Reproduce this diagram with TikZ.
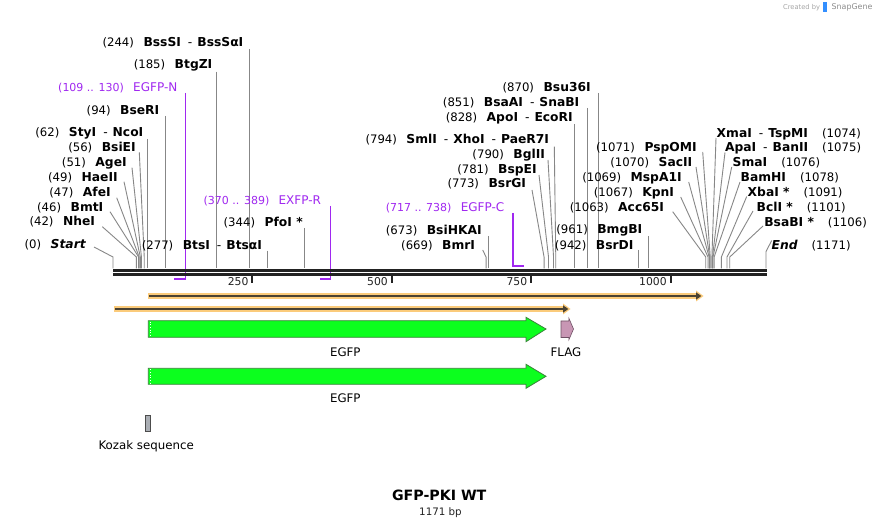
\documentclass[tikz,border=0pt]{standalone}
\usepackage{fontspec}
\setmainfont{DejaVu Sans}
\definecolor{primer}{RGB}{160,40,240}
\definecolor{siteg}{RGB}{135,135,135}
\definecolor{orband}{RGB}{251,203,123}
\definecolor{ordark}{RGB}{74,66,50}
\definecolor{gfill}{RGB}{12,255,30}
\definecolor{gline}{RGB}{60,130,60}
\definecolor{flagfill}{RGB}{200,150,180}
\definecolor{flagline}{RGB}{110,80,100}
\definecolor{kozfill}{RGB}{170,174,180}
\definecolor{seqc}{RGB}{34,34,34}
\newcommand\numf{\fontsize{11.7}{13}\selectfont\mdseries}
\newcommand\namef{\fontsize{12.3}{14}\selectfont\bfseries}
\newcommand\dsh{\hspace{7pt}{\mdseries -}\hspace{5pt}}
\tikzset{
  lab/.style={inner sep=0pt, outer sep=0pt, text=black},
  plab/.style={inner sep=0pt, outer sep=0pt, text=primer},
  cutline/.style={draw=siteg, line width=0.9pt},
  primline/.style={draw=primer, line width=1.4pt},
  primfoot/.style={draw=primer, line width=2.2pt},
  seqline/.style={draw=seqc, line width=3pt},
  tickline/.style={draw=seqc, line width=2pt},
  featlab/.style={inner sep=0pt, outer sep=0pt, font=\fontsize{11.8}{14}\selectfont},
}
\newcommand\labL[5]{%
  \node[lab, anchor=base east] (#1) at (#2,#3+4.5) {\namef #5};
  \node[lab, anchor=base east] (#1-n) at ([xshift=-9.5pt]#1.base west) {\numf #4};}
\newcommand\labR[5]{%
  \node[lab, anchor=base west] (#1) at (#2,#3+4.5) {\namef #5};
  \node[lab, anchor=base west] (#1-n) at ([xshift=14pt]#1.base east) {\numf #4};}
\newcommand\cutS[4]{%
  \coordinate (#1-a) at (#3,#4);
  \coordinate (#1-b) at ({113+#2*0.55764},257);
  \coordinate (#1-s) at ({113+#2*0.55764},268.5);
  \draw[cutline] (#1-a) -- (#1-b) -- (#1-s);}
\newcommand\cutV[3]{%
  \coordinate (#1-a) at ({113+#2*0.55764},#3);
  \coordinate (#1-s) at ({113+#2*0.55764},268.5);
  \draw[cutline] (#1-a) -- (#1-s);}
\begin{document}
\begin{tikzpicture}[x=1pt,y=-1pt]
\useasboundingbox (0,0) rectangle (880,526);
\fill[white] (0,0) rectangle (880,526);

% ---------- cut-site lines ----------
\cutS{Start}{0}{94}{247}
\cutS{NheI}{42}{102.3}{226.7}
\cutS{BmtI}{46}{110}{211.7}
\cutS{AfeI}{47}{116.7}{197.7}
\cutS{HaeII}{49}{124}{181.7}
\cutS{AgeI}{51}{132}{167.7}
\cutS{BsiEI}{56}{139.3}{152.3}
\cutV{StyI}{62}{139}
\cutV{BseRI}{94}{116}
\cutV{BtgZI}{185}{71.7}
\cutV{BssSI}{244}{49}
\cutV{BtsI}{277}{250.7}
\cutV{PfoI}{344}{228}
\cutS{BmrI}{669}{482.7}{250}
\cutV{BsiHKAI}{673}{236}
\cutS{BsrGI}{773}{532}{190}
\cutS{BspEI}{781}{539}{175}
\cutS{BglII}{790}{548}{160}
\cutS{SmlI}{794}{554.3}{146.7}
\cutV{ApoI}{828}{124}
\cutV{BsaAI}{851}{108}
\cutV{Bsu}{870}{93}
\cutV{BsrDI}{942}{250}
\cutV{BmgBI}{961}{236}
\cutS{Acc}{1063}{672.7}{211.7}
\cutS{KpnI}{1067}{680.7}{197}
\cutS{MspA}{1069}{688.7}{182}
\cutS{SacII}{1070}{696}{167}
\cutS{PspOMI}{1071}{702.7}{152}
\cutS{XmaI}{1074}{716}{138}
\cutS{ApaI}{1075}{725}{152.5}
\cutS{SmaI}{1076}{731.7}{167}
\cutS{BamHI}{1078}{740}{182}
\cutS{XbaI}{1091}{746.7}{196.5}
\cutS{BclI}{1101}{753}{211}
\cutS{BsaBI}{1106}{763}{226}
\coordinate (End-a) at (771.7,240.5);
\coordinate (End-b) at (766,251.5);
\coordinate (End-s) at (766,268.5);
\draw[cutline] (End-a) -- (End-b) -- (End-s);

% ---------- primers ----------
\coordinate (pN-a) at (185.5,93);
\coordinate (pN-b) at (185.5,279);
\coordinate (pN-c) at (173.8,279);
\draw[primline] (pN-a) -- (pN-b);
\draw[primfoot] ([xshift=0.7pt]pN-b) -- (pN-c);
\coordinate (pR-a) at (330.3,206);
\coordinate (pR-b) at (330.3,279);
\coordinate (pR-c) at (319.5,279);
\draw[primline] (pR-a) -- (pR-b);
\draw[primfoot] ([xshift=0.7pt]pR-b) -- (pR-c);
\coordinate (pC-a) at (513,213);
\coordinate (pC-b) at (513,266);
\coordinate (pC-c) at (524,266);
\draw[primline] (pC-a) -- (pC-b);
\draw[primfoot] ([xshift=-0.7pt]pC-b) -- (pC-c);

% ---------- sequence ----------
\coordinate (seqL1) at (113,270.3);
\coordinate (seqR1) at (767,270.3);
\coordinate (seqL2) at (113,274.3);
\coordinate (seqR2) at (767,274.3);
\draw[seqline] (seqL1) -- (seqR1);
\draw[seqline] (seqL2) -- (seqR2);
\foreach \t/\lab in {250/t250,500/t500,750/t750,1000/t1000}{
  \coordinate (\lab-a) at ({113+\t*0.55764},275);
  \coordinate (\lab-b) at ({113+\t*0.55764},283);
  \draw[tickline] (\lab-a) -- (\lab-b);
  \node[lab, anchor=base east, text=seqc] (\lab) at ({113+\t*0.55764-4},286) {\fontsize{10.8}{13}\selectfont \t};
}

% ---------- enzyme labels ----------
\labL{Start}{85.7}{244.3}{(0)}{\itshape Start}
\labL{NheI}{95}{221}{(42)}{NheI}
\labL{BmtI}{103.3}{206.7}{(46)}{BmtI}
\labL{AfeI}{110.7}{191.7}{(47)}{AfeI}
\labL{HaeII}{117.7}{176.7}{(49)}{HaeII}
\labL{AgeI}{126.7}{161.7}{(51)}{AgeI}
\labL{BsiEI}{135.7}{146.7}{(56)}{BsiEI}
\labL{StyI}{143.3}{132.3}{(62)}{StyI\dsh NcoI}
\labL{BseRI}{159.3}{110}{(94)}{BseRI}
\labL{BtgZI}{212.3}{64.3}{(185)}{BtgZI}
\labL{BssSI}{243.3}{42.3}{(244)}{BssSI\dsh BssSαI}
\labL{BtsI}{262}{245}{(277)}{BtsI\dsh BtsαI}
\labL{PfoI}{302.7}{222.3}{(344)}{PfoI *}
\labL{BmrI}{475}{245}{(669)}{BmrI}
\labL{BsiHKAI}{481.7}{230}{(673)}{BsiHKAI}
\labL{BsrGI}{526}{183.3}{(773)}{BsrGI}
\labL{BspEI}{536.7}{169}{(781)}{BspEI}
\labL{BglII}{545}{154}{(790)}{BglII}
\labL{SmlI}{549}{139.3}{(794)}{SmlI\dsh XhoI\dsh PaeR7I}
\labL{ApoI}{572.7}{116.7}{(828)}{ApoI\dsh EcoRI}
\labL{BsaAI}{579.3}{101.7}{(851)}{BsaAI\dsh SnaBI}
\labL{Bsu}{590.7}{87.3}{(870)}{Bsu36I}
\labL{BsrDI}{633.5}{245}{(942)}{BsrDI}
\labL{BmgBI}{642.3}{229.5}{(961)}{BmgBI}
\labL{Acc}{664}{206.7}{(1063)}{Acc65I}
\labL{KpnI}{674}{191.7}{(1067)}{KpnI}
\labL{MspA}{681.7}{176.7}{(1069)}{MspA1I}
\labL{SacII}{692.3}{161.7}{(1070)}{SacII}
\labL{PspOMI}{696.7}{146.7}{(1071)}{PspOMI}
\labR{XmaI}{716.7}{132.7}{(1074)}{XmaI\dsh TspMI}
\labR{ApaI}{725}{146.7}{(1075)}{ApaI\dsh BanII}
\labR{SmaI}{732.7}{161.7}{(1076)}{SmaI}
\labR{BamHI}{740.7}{176.7}{(1078)}{BamHI}
\labR{XbaI}{747.7}{191.7}{(1091)}{XbaI *}
\labR{BclI}{756.7}{206.7}{(1101)}{BclI *}
\labR{BsaBI}{764.3}{221.7}{(1106)}{BsaBI *}
\labR{End}{771.7}{245}{(1171)}{\itshape End}

% primer labels
\node[plab, anchor=base east] (EGFPN) at (177.3,91.7) {\fontsize{12}{14}\selectfont EGFP-N};
\node[plab, anchor=base east] (EGFPN-n) at ([xshift=-9.3pt]EGFPN.base west) {\fontsize{11}{13}\selectfont (109 .. 130)};
\node[plab, anchor=base east] (EXFPR) at (321,204.4) {\fontsize{12}{14}\selectfont EXFP-R};
\node[plab, anchor=base east] (EXFPR-n) at ([xshift=-9.3pt]EXFPR.base west) {\fontsize{11}{13}\selectfont (370 .. 389)};
\node[plab, anchor=base east] (EGFPC) at (504.3,211.1) {\fontsize{12}{14}\selectfont EGFP-C};
\node[plab, anchor=base east] (EGFPC-n) at ([xshift=-9.3pt]EGFPC.base west) {\fontsize{11}{13}\selectfont (717 .. 738)};

% ---------- features ----------
% orange arrows
\fill[orband] (147.5,293) rectangle (697,299);
\fill[orband] (696,290.5) -- (703.5,296) -- (696,301.5) -- cycle;
\draw[ordark, line width=2.2pt] (149,296) -- (697,296);
\fill[ordark] (696,292.3) -- (701.3,296) -- (696,299.7) -- cycle;
\fill[orband] (113.5,306) rectangle (564,312);
\fill[orband] (563,303.5) -- (570.5,309) -- (563,314.5) -- cycle;
\draw[ordark, line width=2.2pt] (115,309) -- (564,309);
\fill[ordark] (563,305.3) -- (568.3,309) -- (563,312.7) -- cycle;

% EGFP arrows
\filldraw[fill=gfill, draw=gline, line width=0.8pt]
  (148.3,320.7) -- (526,320.7) -- (526,317.3) -- (546,329) -- (526,341.7) -- (526,337.3) -- (148.3,337.3) -- cycle;
\draw[white, dotted, line width=0.7pt] (150.6,321.6) -- (150.6,336.4);
\filldraw[fill=gfill, draw=gline, line width=0.8pt]
  (148.3,368.3) -- (526,368.3) -- (526,364.3) -- (546,376.3) -- (526,388.3) -- (526,384.3) -- (148.3,384.3) -- cycle;
\draw[white, dotted, line width=0.7pt] (150.6,369.2) -- (150.6,383.4);

% FLAG
\filldraw[fill=flagfill, draw=flagline, line width=0.6pt]
  (561,321) -- (568.8,321) -- (568.8,318) -- (573.5,329) -- (568.8,340) -- (568.8,337.5) -- (561,337.5) -- cycle;

% Kozak
\filldraw[fill=kozfill, draw=black!70, line width=0.6pt] (145.3,415.3) rectangle (150.6,431.6);

\node[featlab, anchor=base] (lEGFP1) at (345.3,356) {EGFP};
\node[featlab, anchor=base] (lFLAG) at (566,356) {FLAG};
\node[featlab, anchor=base] (lEGFP2) at (345.3,402.6) {EGFP};
\node[featlab, anchor=base] (lKozak) at (146.2,449.3) {Kozak sequence};

% ---------- title ----------
\node[lab, anchor=base] (title) at (439.2,500.2) {\fontsize{14.2}{16}\selectfont\bfseries GFP-PKI WT};
\node[lab, anchor=base, text=seqc] (bp) at (440.5,515.5) {\fontsize{10.3}{12}\selectfont 1171 bp};

% ---------- SnapGene credit ----------
\node[lab, anchor=base east, text=black!35] (cred) at (820,9.2) {\fontsize{6.7}{8}\selectfont Created by};
\fill[blue!55!cyan!80] (823,2.5) rectangle (826.5,12) ;
\node[lab, anchor=base west, text=black!45] (sg) at (831.7,9.6) {\fontsize{7.9}{9}\selectfont SnapGene};
\end{tikzpicture}
\end{document}
